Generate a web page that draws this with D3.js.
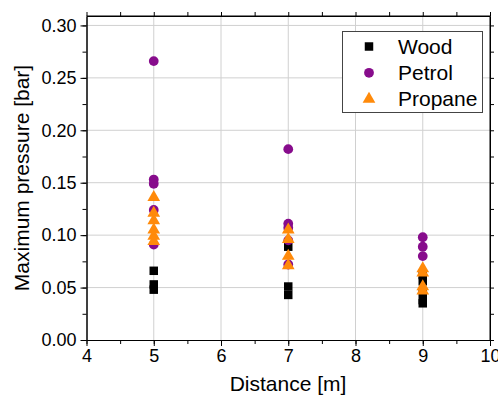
<!DOCTYPE html>
<html><head><meta charset="utf-8">
<script src="https://cdn.jsdelivr.net/npm/d3@7"></script>
<style>body{margin:0;background:#fff}svg{display:block;font-family:"Liberation Sans",Arial,sans-serif}</style>
</head><body><svg id="c" width="498" height="403"></svg>
<script>
const xTicks = [4,5,6,7,8,9,10];
const yTicks = [0,0.05,0.10,0.15,0.20,0.25,0.30];
const seriesNames = ["Wood","Petrol","Propane"];
const woodX = [5,5,5,7,7,7,9,9,9,9,9];
const woodY = [0.066,0.053,0.048,0.089,0.051,0.043,0.062,0.056,0.046,0.038,0.035];
const petrolX = [5,5,5,5,5,7,7,7,7,7,9,9,9];
const petrolY = [0.266,0.153,0.149,0.124,0.091,0.182,0.111,0.107,0.095,0.072,0.098,0.089,0.080];
const propaneX = [5,5,5,5,5,5,7,7,7,7,9,9,9,9];
const propaneY = [0.136,0.121,0.114,0.105,0.099,0.094,0.105,0.096,0.080,0.071,0.068,0.064,0.051,0.047];

const svg = d3.select("#c");
const L=86.5, R=490, T=16, B=340;
const x = d3.scaleLinear().domain([4,10]).range([L,R]);
const y = d3.scaleLinear().domain([0,0.309]).range([B,T]);

// grid
svg.append("g").selectAll("line").data(xTicks.slice(1,-1)).join("line")
  .attr("x1",d=>x(d)).attr("x2",d=>x(d)).attr("y1",T).attr("y2",B)
  .attr("stroke","#d0d0d0").attr("stroke-width",1);
svg.append("g").selectAll("line").data(yTicks.slice(1)).join("line")
  .attr("x1",L).attr("x2",R).attr("y1",d=>y(d)).attr("y2",d=>y(d))
  .attr("stroke","#d0d0d0").attr("stroke-width",1);

// axes
const fmt = d3.format(".2f");
const xMinor = d3.range(4,10.01,0.5);
const yMinor = d3.range(0,0.301,0.025);
function styleAxis(g){g.select(".domain").attr("stroke","#000");g.selectAll("line").attr("stroke","#000");g.selectAll("text").attr("fill","#000").attr("font-size",18);}
svg.append("g").attr("transform",`translate(0,${B})`)
  .call(d3.axisBottom(x).tickValues(xMinor).tickSize(4).tickFormat("").tickSizeOuter(0)).call(styleAxis);
svg.append("g").attr("transform",`translate(0,${B})`)
  .call(d3.axisBottom(x).tickValues(xTicks).tickSize(6).tickPadding(3).tickFormat(d3.format("d")).tickSizeOuter(0)).call(styleAxis);
svg.append("g").attr("transform",`translate(${L},0)`)
  .call(d3.axisLeft(y).tickValues(yMinor).tickSize(4).tickFormat("").tickSizeOuter(0)).call(styleAxis);
svg.append("g").attr("transform",`translate(${L},0)`)
  .call(d3.axisLeft(y).tickValues(yTicks).tickSize(6).tickPadding(4).tickFormat(fmt).tickSizeOuter(0)).call(styleAxis);
// top & right mirror
svg.append("g").attr("transform",`translate(0,${T})`)
  .call(d3.axisTop(x).tickValues(xMinor).tickSize(4).tickFormat("").tickSizeOuter(0)).call(styleAxis);
svg.append("g").attr("transform",`translate(${R},0)`)
  .call(d3.axisRight(y).tickValues(yMinor).tickSize(4).tickFormat("").tickSizeOuter(0)).call(styleAxis);
svg.append("line").attr("x1",L).attr("x2",R).attr("y1",T).attr("y2",T).attr("stroke","#000");
svg.append("line").attr("x1",R).attr("x2",R).attr("y1",T).attr("y2",B).attr("stroke","#000");

// titles
svg.append("text").attr("x",288).attr("y",391).attr("text-anchor","middle").attr("font-size",21).text("Distance [m]");
svg.append("text").attr("transform","translate(29,178) rotate(-90)").attr("text-anchor","middle").attr("font-size",21).text("Maximum pressure [bar]");

const colors = {Wood:"#000000",Petrol:"#870c8c",Propane:"#ff8a0a"};
const sym = {Wood:d3.symbol(d3.symbolSquare,72),Petrol:d3.symbol(d3.symbolCircle,75),Propane:d3.symbol(d3.symbolTriangle,70)};
const data = {
  Wood: woodX.map((v,i)=>[v,woodY[i]]),
  Petrol: petrolX.map((v,i)=>[v,petrolY[i]]),
  Propane: propaneX.map((v,i)=>[v,propaneY[i]])
};
seriesNames.forEach(s=>{
  svg.append("g").selectAll("path").data(data[s]).join("path")
    .attr("transform",d=>`translate(${x(d[0])},${y(d[1])})`)
    .attr("d",sym[s]()).attr("fill",colors[s]);
});

// legend
const lg = svg.append("g");
lg.append("rect").attr("x",342.5).attr("y",31.5).attr("width",140).attr("height",81)
  .attr("fill","#fff").attr("stroke","#444").attr("stroke-width",1);
seriesNames.forEach((s,i)=>{
  const cy = 46.5 + i*26.3;
  lg.append("path").attr("transform",`translate(369,${cy})`).attr("d",sym[s]()).attr("fill",colors[s]);
  lg.append("text").attr("x",398).attr("y",cy+7).attr("font-size",21).text(s);
});
</script></body></html>
